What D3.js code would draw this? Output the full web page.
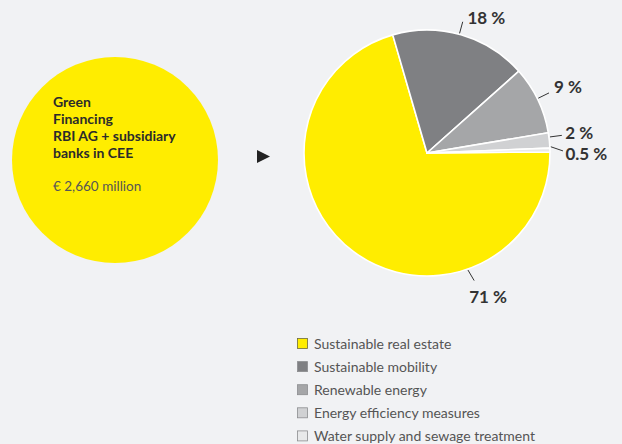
<!DOCTYPE html>
<html>
<head>
<meta charset="utf-8">
<script src="https://cdn.jsdelivr.net/npm/d3@7"></script>
<style>
  html, body { margin: 0; padding: 0; background: #f1f2f4; }
  svg { display: block; font-family: Lato, "Open Sans", sans-serif; }
</style>
</head>
<body>
<svg id="chart" width="622" height="444"></svg>
<script>
/* ---------- data ---------- */
var categories = ['Sustainable real estate', 'Sustainable mobility', 'Renewable energy',
                  'Energy efficiency measures', 'Water supply and sewage treatment'];
var shares = [71, 18, 9, 2, 0.5];
var shareLabels = ['71 %', '18 %', '9 %', '2 %', '0.5 %'];
var colors = ['#ffed00', '#7f8083', '#a5a6a8', '#d0d1d3', '#e8e9ea'];
var titleLines = ['Green', 'Financing', 'RBI AG + subsidiary', 'banks in CEE'];
var totalLabel = '\u20ac 2,660 million';

/* ---------- layout ---------- */
var svg = d3.select('#chart');
var rad = Math.PI / 180;

// left summary disc
var disc = {cx: 115, cy: 160, r: 103};
svg.append('circle')
    .attr('cx', disc.cx).attr('cy', disc.cy).attr('r', disc.r)
    .attr('fill', colors[0]);

var title = svg.append('text')
    .attr('x', 53).attr('y', 107)
    .attr('fill', '#2b2b2b')
    .attr('font-size', '14px')
    .attr('font-weight', 700);
title.selectAll('tspan').data(titleLines).enter().append('tspan')
    .attr('x', 53)
    .attr('dy', function(d, i) { return i === 0 ? 0 : 17; })
    .text(function(d) { return d; });

svg.append('text')
    .attr('x', 53).attr('y', 191)
    .attr('fill', '#555')
    .attr('font-size', '13.5px')
    .text(totalLabel);

// arrow
svg.append('path')
    .attr('d', d3.line()([[257, 150], [270, 156.5], [257, 163]]) + 'Z')
    .attr('fill', '#222');

// pie
var pc = {cx: 427, cy: 153, r: 123};
var pie = d3.pie().sort(null).value(function(d) { return d; })
    .startAngle(89.5 * rad).endAngle(89.5 * rad + 2 * Math.PI);
var arcs = pie(shares);
var arc = d3.arc().innerRadius(0).outerRadius(pc.r);

var g = svg.append('g').attr('transform', 'translate(' + pc.cx + ',' + pc.cy + ')');
g.selectAll('path.slice').data(arcs).enter().append('path')
    .attr('class', 'slice')
    .attr('d', arc)
    .attr('fill', function(d, i) { return colors[i]; })
    .attr('stroke', '#fff')
    .attr('stroke-width', 1.6)
    .attr('stroke-linejoin', 'round');

// label placement: where along the slice the leader sits, its tilt, and text offset
var labelT    = [0.28, 0.487, 0.48, 0.28, -0.33];
var labelTilt = [-1, 0, 0, 0, 2];
var labelOff  = [[-5, 22.6], [4.7, 2.3], [5, 0.3], [3.4, 3.3], [2.4, 9.3]];

function polar(a, r) { return [r * Math.sin(a), -r * Math.cos(a)]; }

arcs.forEach(function(d, i) {
    var a = d.startAngle + labelT[i] * (d.endAngle - d.startAngle);
    var p0 = polar(a, pc.r + 1);
    var p1 = polar(a + labelTilt[i] * rad, pc.r + 13);
    g.append('line')
        .attr('x1', p0[0]).attr('y1', p0[1])
        .attr('x2', p1[0]).attr('y2', p1[1])
        .attr('stroke', '#333').attr('stroke-width', 1);
    g.append('text')
        .attr('x', p1[0] + labelOff[i][0])
        .attr('y', p1[1] + labelOff[i][1])
        .attr('fill', '#333')
        .attr('font-size', '17px')
        .attr('font-weight', 700)
        .text(shareLabels[i]);
});

// legend
var legend = svg.append('g').attr('transform', 'translate(297,338)');
var row = legend.selectAll('g').data(categories).enter().append('g')
    .attr('transform', function(d, i) { return 'translate(0,' + (i * 23.1) + ')'; });
row.append('rect')
    .attr('x', 0.5).attr('y', 0.5).attr('width', 10).attr('height', 10)
    .attr('fill', function(d, i) { return colors[i]; })
    .attr('stroke', function(d, i) { return i === 0 ? '#6d6a3a' : '#8c8d8f'; })
    .attr('stroke-width', 0.8);
row.append('text')
    .attr('x', 17).attr('y', 10.5)
    .attr('fill', '#555')
    .attr('font-size', '14px')
    .text(function(d) { return d; });
</script>
</body>
</html>
